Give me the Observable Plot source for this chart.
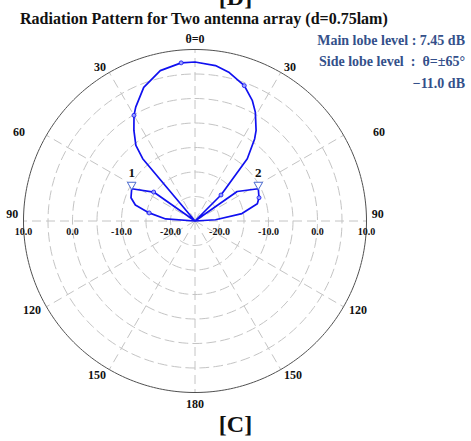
<!DOCTYPE html>
<html><head><meta charset="utf-8">
<script src="https://cdn.jsdelivr.net/npm/d3@7"></script>
<script src="https://cdn.jsdelivr.net/npm/@observablehq/plot@0.6"></script>
<style>
body{margin:0;background:#fff;}
#wrap{position:relative;width:471px;height:441px;overflow:hidden;font-family:"Liberation Serif","Times New Roman",serif;font-weight:bold;color:#111;}
#dmark{position:absolute;left:0;width:471px;top:-15px;text-align:center;font-size:24px;line-height:24px;}
#title{position:absolute;left:20px;top:9px;font-size:16px;line-height:20px;white-space:nowrap;}
#chart{position:absolute;left:0;top:30px;}
.ann{position:absolute;right:6px;font-size:14px;line-height:16px;color:#34508a;white-space:nowrap;}
#a1{top:33px;} #a2{top:54px;} #a3{top:76px;}
#cap{position:absolute;left:0;width:471px;top:410px;text-align:center;font-size:24px;line-height:28px;}
</style></head>
<body>
<div id="wrap">
  <div id="dmark">[D]</div>
  <div id="title">Radiation Pattern for Two antenna array (d=0.75lam)</div>
  <div id="chart"></div>
  <div class="ann" id="a1">Main lobe level : 7.45 dB</div>
  <div class="ann" id="a2">Side lobe level &nbsp;: &nbsp;θ=±65°</div>
  <div class="ann" id="a3">−11.0 dB</div>
  <div id="cap">[C]</div>
</div>
<script>
// ---- data (angle in degrees from broadside, gain in dB) ----
const angles = [-90,-86,-80,-75,-70,-63,-55,-50,-40,-38,-34,-30,-27.5,-21,-13,-5,0,7.5,13,20,25.5,29,34,36,40,45,50,55,63,70,74.5,81,86.5,90];
const gainDb = [-25,-19.0,-15.5,-12.4,-11.1,-10.5,-14.7,-25,-8.4,-5.4,-2.7,-0.1,1.2,4.2,6.5,7.4,7.45,7.0,6.1,4.4,2.2,0.4,-2.7,-4.3,-8.4,-17.5,-25,-14.5,-10.5,-11.1,-11.8,-15.3,-20.8,-25];
const markerAngles = [-80,-55,-30,-5,20,45,70];
const lobeAngles = [-63, 63];
const lobeNames = ["1", "2"];
const rMin = -25, rMax = 10;
const ringLevels = [-20,-15,-10,-5,0,5];
const tickLevels = [-20,-10,0,10];
const spokeAngles = [0,30,60,90,120,150,180,210,240,270,300,330];
const spokeLabels = ["θ=0","30","60","90","120","150","180","150","120","90","60","30"];

const R = rMax - rMin;
const toXY = (a, v) => {
  const r = Math.max(v, rMin) - rMin, t = a * Math.PI / 180;
  return {x: r * Math.sin(t), y: r * Math.cos(t)};
};
const pattern = angles.map((a, i) => ({a, v: gainDb[i], ...toXY(a, gainDb[i])}));
const markers = pattern.filter(d => markerAngles.includes(d.a));
const lobes = lobeAngles.map((a, i) => ({name: lobeNames[i], ...toXY(a, gainDb[angles.indexOf(a)])}));

const ringPts = [];
for (const lv of ringLevels) for (let a = 0; a <= 360; a += 2) ringPts.push({lv, ...toXY(a, lv)});
const outerPts = [];
for (let a = 0; a <= 360; a += 1) outerPts.push(toXY(a, rMax));
const spokes = spokeAngles.map(a => ({x1: 0, y1: 0, x2: R * Math.sin(a*Math.PI/180), y2: R * Math.cos(a*Math.PI/180)}));
const ticks = [];
for (const lv of tickLevels) {
  ticks.push({x: -(lv - rMin), y: 0, t: lv.toFixed(1)});
  ticks.push({x: (lv - rMin), y: 0, t: lv.toFixed(1)});
}
const LR = 36.3;
const lab = spokeAngles.map((a, i) => ({a, t: spokeLabels[i], x: LR*Math.sin(a*Math.PI/180), y: LR*Math.cos(a*Math.PI/180)}));
const labRight = lab.filter(d => [30,120,150].includes(d.a));
const labLeft = lab.filter(d => [210,240,330].includes(d.a));
const lab60R = lab.filter(d => d.a === 60), lab60L = lab.filter(d => d.a === 300);
const lab90R = lab.filter(d => d.a === 90), lab90L = lab.filter(d => d.a === 270);
const labTop = lab.filter(d => d.a === 0), labBot = lab.filter(d => d.a === 180);

const grid = "#c4c4c4", blue = "#1010f0";
const txt = {fontWeight: "bold", fontSize: 12, fill: "#111"};
const chart = Plot.plot({
  width: 471, height: 385, margin: 0,
  x: {domain: [-R, R], range: [23, 366], axis: null},
  y: {domain: [-R, R], range: [362, 19], axis: null},
  style: {fontFamily: "'Liberation Serif', serif", background: "transparent"},
  marks: [
    Plot.line(ringPts, {x: "x", y: "y", z: "lv", stroke: grid, strokeWidth: 1, strokeDasharray: "9,5"}),
    Plot.link(spokes, {x1: "x1", y1: "y1", x2: "x2", y2: "y2", stroke: grid, strokeWidth: 1, strokeDasharray: "9,5"}),
    Plot.line(outerPts, {x: "x", y: "y", stroke: "#505050", strokeWidth: 1}),
    Plot.text(ticks, {x: "x", y: "y", text: "t", dy: 11, fontSize: 10, fontWeight: "bold", fill: "#111"}),
    Plot.text(labRight, {x: "x", y: "y", text: "t", textAnchor: "start", ...txt}),
    Plot.text(labLeft, {x: "x", y: "y", text: "t", textAnchor: "end", ...txt}),
    Plot.text(lab60R, {x: "x", y: "y", text: "t", textAnchor: "start", dx: 24, ...txt}),
    Plot.text(lab60L, {x: "x", y: "y", text: "t", textAnchor: "end", dx: -16, ...txt}),
    Plot.text(lab90R, {x: "x", y: "y", text: "t", textAnchor: "start", dx: -1, dy: -7, ...txt}),
    Plot.text(lab90L, {x: "x", y: "y", text: "t", textAnchor: "end", dx: 1, dy: -7, ...txt}),
    Plot.text(labTop, {x: "x", y: "y", text: "t", dy: -4, ...txt}),
    Plot.text(labBot, {x: "x", y: "y", text: "t", dy: 5, ...txt}),
    Plot.line(pattern, {x: "x", y: "y", stroke: blue, strokeWidth: 1.7, curve: "linear"}),
    Plot.dot(markers, {x: "x", y: "y", r: 2, stroke: blue, fill: "#9aa0ff", strokeWidth: 0.8}),
    Plot.dot(lobes, {x: "x", y: "y", symbol: "triangle", rotate: 180, r: 3.2, dy: -4, stroke: "#4a6ad0", fill: "white", strokeWidth: 1}),
    Plot.text(lobes, {x: "x", y: "y", text: "name", dy: -16, fontSize: 13, fontWeight: "bold", fill: "#111"})
  ]
});
document.getElementById("chart").appendChild(chart);
</script>
</body></html>
